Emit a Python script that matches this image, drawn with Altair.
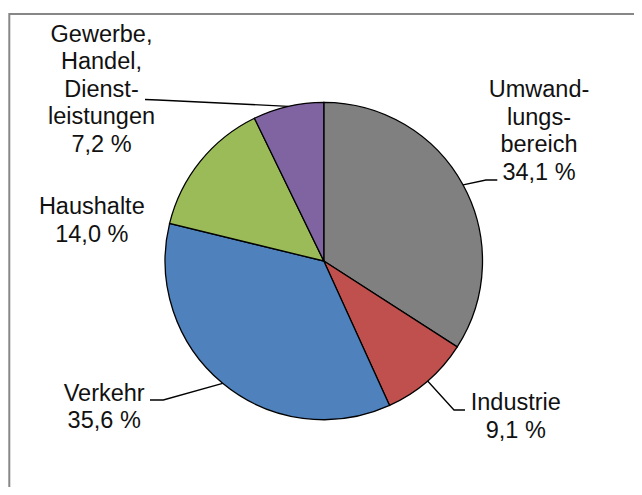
import math
import altair as alt
import pandas as pd

# ---- data ----
categories = ["Umwandlungsbereich", "Industrie", "Verkehr", "Haushalte",
              "Gewerbe, Handel, Dienstleistungen"]
values = [34.1, 9.1, 35.6, 14.0, 7.2]
label_names = ["Umwand-\nlungs-\nbereich", "Industrie", "Verkehr", "Haushalte",
               "Gewerbe,\nHandel,\nDienst-\nleistungen"]
colors = ["#808080", "#C0504D", "#4F81BD", "#9BBB59", "#8064A2"]

# ---- layout (chart pixel coordinates) ----
W, H = 626, 479
CX, CY, R = 315.8, 253.0, 158.7
FONT = "Liberation Sans"
FS = 23.5
LH = 27.5
# label anchor: centre x, first-line baseline y
label_anchor = [(531.0, 89.3), (507.8, 402.0), (96.2, 392.7), (83.8, 206.3), (93.5, 33.7)]
# leader path beyond the slice edge (elbow, end); None = no leader
leader_path = [
    [(478.0, 172.0), (489.3, 172.0)],
    [(446.0, 402.0), (457.0, 402.0)],
    [(155.3, 392.0), (142.0, 392.0)],
    None,
    [(150.0, 92.0), (137.0, 91.5)],
]

def fmt(v):
    return f"{v:.1f}".replace(".", ",") + " %"

total = sum(values)
df = pd.DataFrame({
    "cat": categories,
    "value": values,
    "order": list(range(len(values))),
})

# text labels
lab = pd.DataFrame({
    "cat": categories,
    "text": [f"{n}\n{fmt(v)}" for n, v in zip(label_names, values)],
    "lx": [a[0] for a in label_anchor],
    "ly": [a[1] for a in label_anchor],
})

# leader lines start at arc midpoint derived from the data
rows = []
cum = 0.0
for i, v in enumerate(values):
    mid = (cum + v / 2) / total * 2 * math.pi
    cum += v
    if leader_path[i] is None:
        continue
    pts = [(CX + R * math.sin(mid), CY - R * math.cos(mid))] + leader_path[i]
    for j, (px, py) in enumerate(pts):
        rows.append({"seg": i, "idx": j, "px": px, "py": py})
lead = pd.DataFrame(rows)

border = alt.Chart(pd.DataFrame({"a": [0]})).mark_rect(
    fill=None, stroke="#878787", strokeWidth=2
).encode(x=alt.value(1.3), y=alt.value(6), x2=alt.value(W + 20), y2=alt.value(H + 20))

pie = alt.Chart(df).mark_arc(outerRadius=R, stroke="black", strokeWidth=1.3).encode(
    theta=alt.Theta("value:Q", stack=True),
    order=alt.Order("order:Q"),
    color=alt.Color("cat:N", scale=alt.Scale(domain=categories, range=colors), legend=None),
    x=alt.value(CX),
    y=alt.value(CY),
)

leaders = alt.Chart(lead).mark_line(color="black", strokeWidth=1.3).encode(
    x=alt.X("px:Q", scale=None, axis=None),
    y=alt.Y("py:Q", scale=None, axis=None),
    detail="seg:N",
    order="idx:Q",
)

texts = alt.Chart(lab).mark_text(
    align="center", baseline="alphabetic", font=FONT, fontSize=FS,
    lineBreak="\n", lineHeight=LH, color="#111111"
).encode(
    x=alt.X("lx:Q", scale=None, axis=None),
    y=alt.Y("ly:Q", scale=None, axis=None),
    text="text:N",
)

chart = alt.layer(border, pie, leaders, texts).properties(
    width=W, height=H, autosize=alt.AutoSizeParams(type="none"), padding=0,
    background="white",
).configure_view(stroke=None)

chart.save("out.html", embed_options={"renderer": "svg", "actions": False})
